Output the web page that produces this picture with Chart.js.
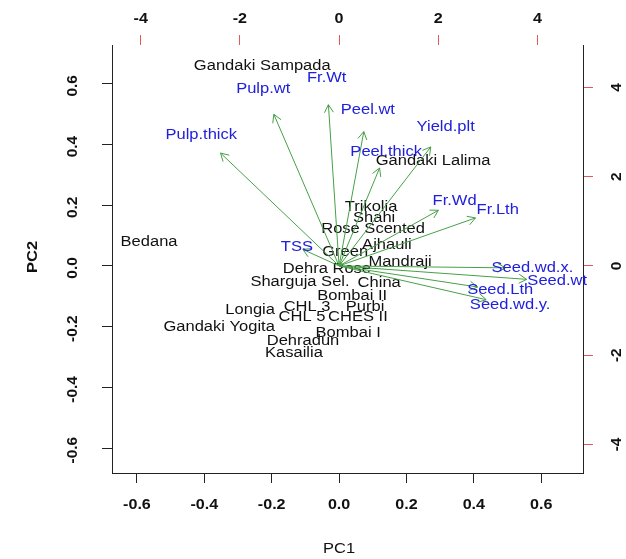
<!DOCTYPE html>
<html>
<head>
<meta charset="utf-8">
<script src="https://cdn.jsdelivr.net/npm/chart.js@4.4.0/dist/chart.umd.min.js"></script>
<style>
  body { margin: 0; background: #fff; }
  #wrap { width: 626px; height: 559px; }
</style>
</head>
<body>
<div id="wrap"><canvas id="myChart" width="626" height="559"></canvas></div>
<script>
// cultivar scores, plotted on bottom / left axes
var sampleNames = ["Gandaki Sampada", "Gandaki Lalima", "Trikolia", "Shahi", "Rose Scented",
    "Ajhauli", "Green", "Mandraji", "Dehra Rose", "Bedana", "Sharguja Sel.", "China",
    "Bombai II", "Purbi", "CHL 3", "Longia", "CHL 5", "CHES II", "Gandaki Yogita",
    "Bombai I", "Dehradun", "Kasailia"];
var samplePC1 = [-0.228, 0.279, 0.095, 0.104, 0.101, 0.142, 0.018, 0.181, -0.036, -0.564, -0.116, 0.119,
    0.039, 0.077, -0.095, -0.264, -0.110, 0.056, -0.356, 0.027, -0.107, -0.134];
var samplePC2 = [0.657, 0.347, 0.195, 0.159, 0.120, 0.070, 0.044, 0.014, -0.009, 0.080, -0.052, -0.055,
    -0.098, -0.134, -0.134, -0.144, -0.170, -0.170, -0.200, -0.220, -0.249, -0.286];

// variable loadings, plotted on top / right axes
var varNames = ["Fr.Wt", "Fr.Lth", "Fr.Wd", "Peel.wt", "Peel.thick", "Pulp.wt", "Pulp.thick",
    "Seed.wt", "Seed.Lth", "Seed.wd.x.", "Seed.wd.y.", "TSS", "Yield.plt"];
var varPC1 = [-0.25, 3.2, 2.33, 0.58, 0.95, -1.53, -2.78, 4.4, 3.25, 3.9, 3.45, -0.85, 2.15];
var varPC2 = [4.2, 1.25, 1.45, 3.5, 2.55, 3.95, 2.94, -0.35, -0.55, -0.05, -0.88, 0.43, 3.1];

// tick labels
var pcTicks = [-0.6, -0.4, -0.2, 0, 0.2, 0.4, 0.6];
var loadTicks = [-4, -2, 0, 2, 4];

var arrowShrink = 0.86;
var arrowColor = '#47a047';
var textFont = '"Liberation Sans", Arial, sans-serif';

var ctx = document.getElementById('myChart');

function axisOpts(pos, min, max, ticks, size, tickColor, showBorder) {
    return {
        type: 'linear',
        position: pos,
        min: min,
        max: max,
        afterBuildTicks: function (s) {
            s.ticks = ticks.map(function (v) { return { value: v }; });
        },
        afterFit: function (s) {
            if (s.isHorizontal()) s.height = size; else s.width = size;
        },
        ticks: { display: false },
        grid: { drawOnChartArea: false, drawTicks: true, tickLength: 10, color: tickColor, tickColor: tickColor, lineWidth: 1 },
        border: { display: showBorder, color: '#222', width: 1 }
    };
}

// text a bit wider than tall, like the scanned figure
function stretchText(c, str, x, y, color, font, sx, rot) {
    c.save();
    c.translate(x, y);
    if (rot) c.rotate(rot);
    c.scale(sx, 1);
    c.font = font;
    c.fillStyle = color;
    c.textAlign = 'center';
    c.textBaseline = 'middle';
    c.fillText(str, 0, 0);
    c.restore();
}

var biplotText = {
    id: 'biplotText',
    beforeDatasetsDraw: function (chart) {
        var c = chart.ctx;
        var meta = chart.getDatasetMeta(0);
        sampleNames.forEach(function (n, i) {
            var p = meta.data[i];
            stretchText(c, n, p.x, p.y, '#111', '14px ' + textFont, 1.18);
        });
    },
    afterDatasetsDraw: function (chart) {
        var c = chart.ctx;
        var sx = chart.scales.x2, sy = chart.scales.y2;
        c.save();
        c.strokeStyle = arrowColor;
        c.lineWidth = 1;
        varNames.forEach(function (n, i) {
            var pts = chart.getDatasetMeta(i + 1).data;
            var x0 = pts[0].x, y0 = pts[0].y, x1 = pts[1].x, y1 = pts[1].y;
            var a = Math.atan2(y1 - y0, x1 - x0), L = 9, w = Math.PI / 6;
            c.beginPath();
            c.moveTo(x1 - L * Math.cos(a - w), y1 - L * Math.sin(a - w));
            c.lineTo(x1, y1);
            c.lineTo(x1 - L * Math.cos(a + w), y1 - L * Math.sin(a + w));
            c.stroke();
        });
        c.restore();
        varNames.forEach(function (n, i) {
            stretchText(c, n, sx.getPixelForValue(varPC1[i]), sy.getPixelForValue(varPC2[i]),
                '#2020dc', '14px ' + textFont, 1.18);
        });
    },
    afterDraw: function (chart) {
        var c = chart.ctx;
        var s = chart.scales;
        var bold = 'bold 14px ' + textFont;
        pcTicks.forEach(function (v) {
            stretchText(c, v.toFixed(1), s.x.getPixelForValue(v), s.x.top + 32, '#111', bold, 1.15);
            stretchText(c, v.toFixed(1), s.y.right - 39, s.y.getPixelForValue(v) + 2, '#111', bold, 1.1, -Math.PI / 2);
        });
        loadTicks.forEach(function (v) {
            stretchText(c, String(v), s.x2.getPixelForValue(v), s.x2.bottom - 26, '#111', bold, 1.15);
            stretchText(c, String(v), s.y2.left + 34, s.y2.getPixelForValue(v), '#111', bold, 1.1, -Math.PI / 2);
        });
        stretchText(c, 'PC1', s.x.getPixelForValue(0), s.x.top + 76, '#111', '15px ' + textFont, 1.1);
        stretchText(c, 'PC2', s.y.left + 33, s.y.getPixelForValue(0) - 9, '#111', 'bold 15px ' + textFont, 1.1, -Math.PI / 2);
    }
};

var datasets = [{
    label: 'scores',
    xAxisID: 'x',
    yAxisID: 'y',
    data: sampleNames.map(function (n, i) { return { x: samplePC1[i], y: samplePC2[i] }; }),
    pointRadius: 0,
    showLine: false
}];
varNames.forEach(function (n, i) {
    datasets.push({
        label: n,
        xAxisID: 'x2',
        yAxisID: 'y2',
        data: [{ x: 0, y: 0 }, { x: varPC1[i] * arrowShrink, y: varPC2[i] * arrowShrink }],
        showLine: true,
        borderColor: arrowColor,
        borderWidth: 1,
        pointRadius: 0
    });
});

var chart = new Chart(ctx, {
    type: 'scatter',
    data: { datasets: datasets },
    options: {
        responsive: false,
        animation: false,
        devicePixelRatio: 1,
        layout: { padding: 0 },
        plugins: { legend: { display: false }, tooltip: { enabled: false } },
        scales: {
            x: axisOpts('bottom', -0.674, 0.724, pcTicks, 86, '#222', true),
            y: axisOpts('left', -0.682, 0.728, pcTicks, 112, '#222', true),
            x2: axisOpts('top', -4.58, 4.92, loadTicks, 45, '#e05a5a', false),
            y2: axisOpts('right', -4.64, 4.95, loadTicks, 43, '#e05a5a', true)
        }
    },
    plugins: [biplotText]
});
</script>
</body>
</html>
